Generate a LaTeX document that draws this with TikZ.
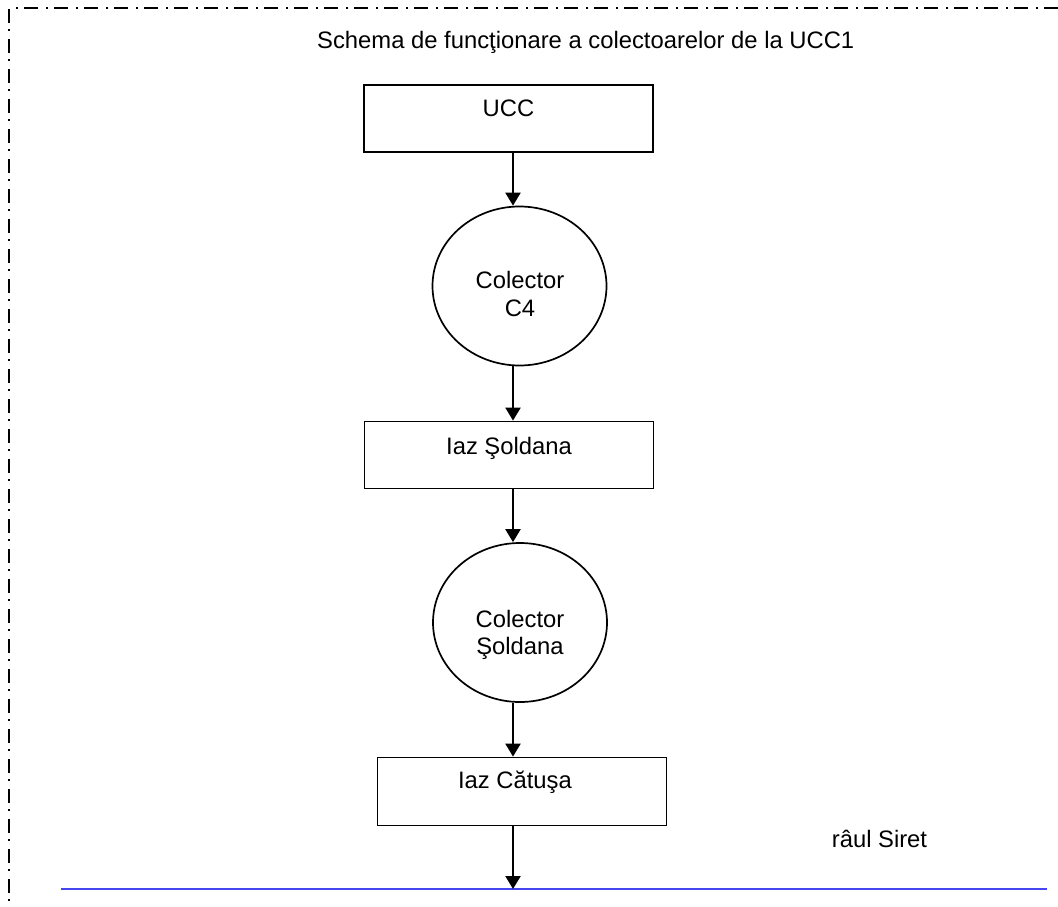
\documentclass[tikz,border=0pt]{standalone}
\usepackage{fontspec}
\setmainfont{Liberation Sans}
\usetikzlibrary{shapes.geometric,arrows.meta}
\definecolor{riverblue}{RGB}{70,70,240}
\begin{document}
\begin{tikzpicture}[x=1pt,y=-1pt,
  boxnode/.style={draw=black,line width=1.8pt,rectangle,inner sep=0pt,minimum width=289pt,minimum height=67pt},
  ellnode/.style={draw=black,line width=1.7pt,ellipse,inner sep=0pt,minimum width=174pt,minimum height=159pt},
  txt/.style={inner sep=0pt,anchor=base,font=\fontsize{23.8}{28.5}\selectfont},
  arr/.style={line width=2.2pt,-{Triangle[width=15pt,length=13pt]}},
  frame/.style={line width=1.3pt,dash pattern=on 14pt off 6pt on 2pt off 8pt},
  river/.style={draw=riverblue,line width=2pt}]
\useasboundingbox (0,0) rectangle (1058,907);
\draw[frame] (1058,8) -- (9,8) -- (9,907);
\node[txt,anchor=base west] (title) at (317,49) {Schema de funcţionare a colectoarelor de la UCC1};
% shapes
\node[boxnode] (ucc) at (508.5,118.5) {};
\node[ellnode] (c4) at (519.5,286) {};
\node[boxnode] (isol) at (509,455) {};
\node[ellnode] (csol) at (520,622.5) {};
\node[boxnode,minimum height=68pt] (icat) at (522,791.5) {};
% texts
\node[txt] (ucct) at (508.5,117) {UCC};
\node[txt] (c4a) at (520,288) {Colector};
\node[txt] (c4b) at (520,316) {C4};
\node[txt] (isolt) at (509,454) {Iaz Şoldana};
\node[txt] (csola) at (520,627) {Colector};
\node[txt] (csolb) at (520,654) {Şoldana};
\node[txt] (icatt) at (515,788) {Iaz Cătuşa};
\node[txt] (siret) at (879.5,847) {râul Siret};
% river
\coordinate (rl) at (61,889);
\coordinate (rr) at (1047,889);
\draw[river] (rl) -- (rr);
% arrows
\coordinate (ax) at (513,0);
\draw[arr] (ucc.south -| ax) -- (c4.north -| ax);
\draw[arr] (c4.south -| ax) -- (isol.north -| ax);
\draw[arr] (isol.south -| ax) -- (csol.north -| ax);
\draw[arr] (csol.south -| ax) -- (icat.north -| ax);
\draw[arr] (icat.south -| ax) -- (rl -| ax);
\end{tikzpicture}
\end{document}
